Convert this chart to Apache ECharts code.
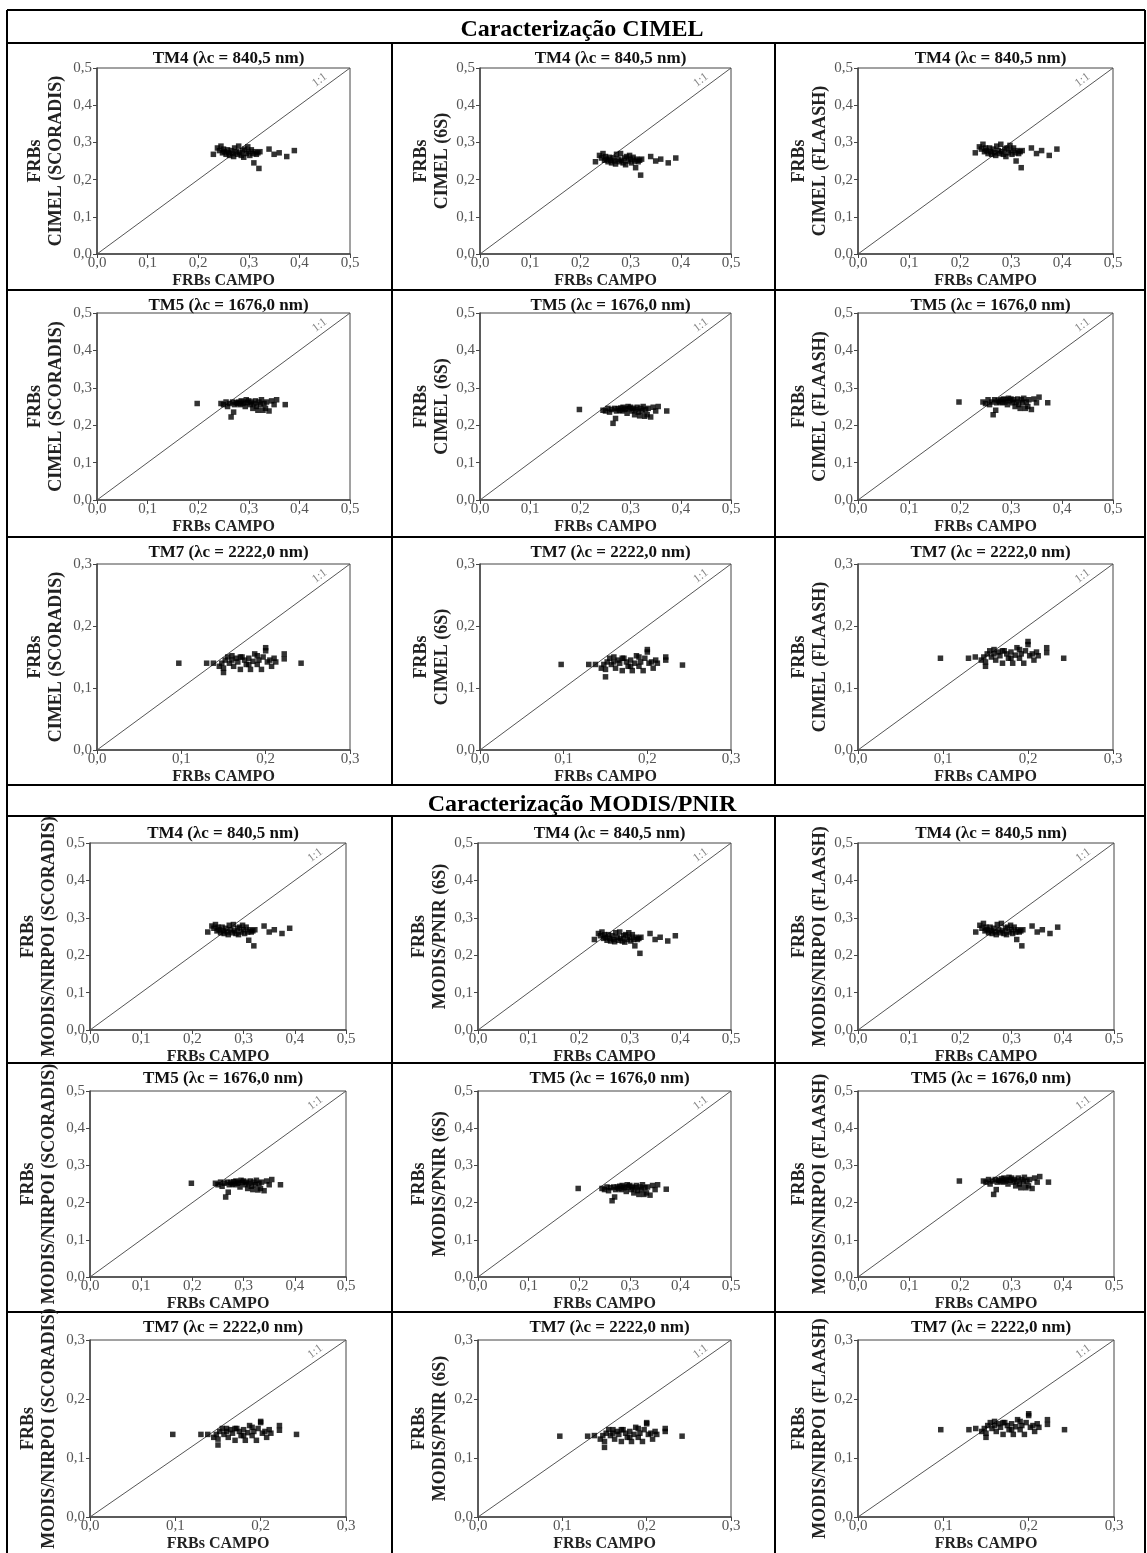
<!DOCTYPE html>
<html>
<head>
<meta charset="utf-8">
<title>Caracterização CIMEL e MODIS/PNIR</title>
<script src="https://cdn.jsdelivr.net/npm/echarts@6/dist/echarts.min.js"></script>
<style>
  html, body { margin: 0; padding: 0; background: #fff; }
  #chart { width: 1147px; height: 1553px; }
</style>
</head>
<body>
<div id="chart"></div>
<script>
// FRBs de campo (eixo x), por banda
const campoTM4 = [0.230,0.238,0.242,0.245,0.248,0.250,0.252,0.255,0.258,0.260,0.262,0.265,0.268,0.270,0.272,0.275,0.278,0.280,0.282,0.285,0.288,0.290,0.292,0.295,0.298,0.300,0.302,0.305,0.308,0.310,0.312,0.315,0.318,0.320,0.322,0.340,0.350,0.360,0.375,0.390]
const campoTM5 = [0.198,0.245,0.250,0.255,0.258,0.262,0.265,0.268,0.270,0.272,0.275,0.278,0.280,0.283,0.285,0.288,0.290,0.293,0.295,0.298,0.300,0.303,0.305,0.308,0.310,0.313,0.315,0.318,0.320,0.323,0.325,0.328,0.330,0.333,0.335,0.340,0.345,0.350,0.355,0.372]
const campoTM7 = [0.097,0.130,0.138,0.145,0.148,0.150,0.152,0.155,0.157,0.160,0.162,0.165,0.167,0.170,0.172,0.175,0.177,0.180,0.182,0.185,0.187,0.190,0.192,0.195,0.197,0.200,0.202,0.205,0.207,0.210,0.212,0.150,0.160,0.170,0.180,0.190,0.200,0.222,0.222,0.242]

// FRBs estimados (eixo y) - caracterização CIMEL
const cimelScoradisTM4 = [0.268,0.285,0.278,0.290,0.272,0.282,0.275,0.268,0.280,0.272,0.265,0.278,0.270,0.262,0.285,0.275,0.268,0.290,0.272,0.265,0.278,0.260,0.282,0.270,0.288,0.275,0.265,0.280,0.270,0.245,0.275,0.268,0.272,0.230,0.275,0.282,0.268,0.272,0.262,0.278]
const cimel6STM4 = [0.248,0.265,0.258,0.270,0.252,0.262,0.255,0.248,0.260,0.252,0.245,0.258,0.250,0.242,0.268,0.255,0.248,0.270,0.252,0.245,0.258,0.240,0.262,0.250,0.265,0.255,0.245,0.260,0.250,0.232,0.255,0.248,0.252,0.212,0.255,0.262,0.250,0.255,0.245,0.258]
const cimelFlaashTM4 = [0.272,0.288,0.282,0.295,0.275,0.285,0.278,0.270,0.285,0.275,0.268,0.282,0.272,0.265,0.290,0.278,0.270,0.295,0.275,0.268,0.282,0.262,0.285,0.272,0.292,0.278,0.268,0.285,0.272,0.250,0.278,0.270,0.275,0.232,0.278,0.285,0.270,0.278,0.265,0.282]
const cimelScoradisTM5 = [0.258,0.258,0.255,0.262,0.250,0.258,0.222,0.262,0.235,0.255,0.260,0.258,0.262,0.255,0.265,0.258,0.262,0.250,0.268,0.260,0.265,0.255,0.262,0.245,0.258,0.265,0.250,0.240,0.262,0.255,0.268,0.240,0.258,0.245,0.262,0.238,0.265,0.255,0.268,0.255]
const cimel6STM5 = [0.242,0.240,0.238,0.245,0.235,0.242,0.205,0.245,0.218,0.238,0.244,0.240,0.246,0.238,0.248,0.242,0.245,0.232,0.250,0.244,0.248,0.238,0.245,0.228,0.242,0.248,0.235,0.225,0.245,0.238,0.250,0.224,0.242,0.228,0.245,0.222,0.248,0.238,0.250,0.238]
const cimelFlaashTM5 = [0.262,0.262,0.258,0.268,0.255,0.262,0.228,0.268,0.240,0.260,0.265,0.262,0.268,0.260,0.270,0.262,0.268,0.255,0.272,0.265,0.270,0.260,0.268,0.250,0.262,0.270,0.255,0.245,0.268,0.260,0.272,0.245,0.262,0.250,0.268,0.242,0.270,0.260,0.275,0.260]
const cimelScoradisTM7 = [0.140,0.140,0.140,0.135,0.140,0.125,0.145,0.150,0.140,0.152,0.135,0.148,0.142,0.130,0.150,0.145,0.138,0.148,0.130,0.143,0.155,0.138,0.145,0.130,0.150,0.160,0.142,0.145,0.135,0.148,0.142,0.132,0.145,0.150,0.138,0.152,0.165,0.147,0.155,0.140]
const cimel6STM7 = [0.138,0.138,0.138,0.132,0.138,0.118,0.142,0.148,0.138,0.150,0.132,0.145,0.140,0.128,0.148,0.142,0.135,0.145,0.128,0.140,0.152,0.135,0.142,0.128,0.148,0.158,0.140,0.142,0.132,0.145,0.140,0.130,0.142,0.148,0.135,0.150,0.162,0.145,0.150,0.137]
const cimelFlaashTM7 = [0.148,0.148,0.150,0.145,0.150,0.135,0.155,0.160,0.150,0.162,0.145,0.158,0.152,0.140,0.160,0.155,0.148,0.158,0.140,0.153,0.165,0.148,0.155,0.140,0.160,0.170,0.152,0.155,0.145,0.158,0.152,0.142,0.155,0.160,0.148,0.162,0.175,0.157,0.165,0.148]

// FRBs estimados (eixo y) - caracterização MODIS/PNIR
const modisScoradisTM4 = [0.262,0.278,0.272,0.282,0.265,0.275,0.268,0.260,0.275,0.265,0.258,0.272,0.262,0.255,0.280,0.268,0.260,0.282,0.265,0.258,0.272,0.255,0.275,0.262,0.280,0.268,0.258,0.275,0.262,0.240,0.268,0.262,0.265,0.225,0.268,0.278,0.262,0.268,0.258,0.272]
const modis6STM4 = [0.242,0.258,0.252,0.262,0.245,0.255,0.248,0.240,0.255,0.245,0.238,0.252,0.242,0.236,0.260,0.248,0.240,0.262,0.245,0.238,0.252,0.235,0.255,0.242,0.260,0.248,0.238,0.255,0.242,0.225,0.248,0.242,0.245,0.205,0.248,0.258,0.242,0.248,0.238,0.252]
const modisFlaashTM4 = [0.262,0.280,0.272,0.285,0.265,0.275,0.268,0.260,0.275,0.265,0.258,0.272,0.262,0.255,0.282,0.268,0.260,0.285,0.265,0.258,0.272,0.255,0.275,0.262,0.280,0.268,0.258,0.275,0.262,0.242,0.268,0.262,0.265,0.225,0.268,0.278,0.262,0.268,0.258,0.275]
const modisScoradisTM5 = [0.252,0.252,0.248,0.255,0.244,0.252,0.215,0.255,0.228,0.248,0.254,0.250,0.256,0.248,0.258,0.252,0.255,0.242,0.260,0.254,0.258,0.248,0.255,0.238,0.252,0.258,0.244,0.235,0.255,0.248,0.260,0.234,0.252,0.238,0.255,0.232,0.258,0.248,0.262,0.248]
const modis6STM5 = [0.238,0.238,0.235,0.242,0.232,0.240,0.205,0.242,0.215,0.235,0.242,0.238,0.244,0.235,0.246,0.240,0.242,0.230,0.248,0.242,0.246,0.235,0.242,0.226,0.240,0.246,0.232,0.222,0.242,0.235,0.248,0.222,0.240,0.226,0.242,0.220,0.246,0.235,0.248,0.236]
const modisFlaashTM5 = [0.258,0.258,0.255,0.262,0.250,0.258,0.222,0.262,0.235,0.255,0.260,0.258,0.264,0.255,0.266,0.258,0.262,0.250,0.268,0.260,0.266,0.255,0.262,0.245,0.258,0.266,0.250,0.240,0.262,0.255,0.268,0.240,0.258,0.245,0.262,0.238,0.266,0.255,0.270,0.255]
const modisScoradisTM7 = [0.140,0.140,0.140,0.135,0.140,0.122,0.145,0.150,0.140,0.150,0.135,0.148,0.142,0.130,0.150,0.145,0.138,0.148,0.130,0.143,0.155,0.138,0.145,0.130,0.150,0.160,0.142,0.145,0.135,0.148,0.142,0.132,0.145,0.150,0.138,0.152,0.162,0.147,0.155,0.140]
const modis6STM7 = [0.137,0.137,0.138,0.132,0.138,0.118,0.142,0.148,0.138,0.148,0.132,0.145,0.140,0.128,0.148,0.142,0.135,0.145,0.128,0.140,0.152,0.135,0.142,0.128,0.148,0.158,0.140,0.142,0.132,0.145,0.140,0.128,0.142,0.148,0.135,0.150,0.160,0.145,0.150,0.137]
const modisFlaashTM7 = [0.148,0.148,0.150,0.145,0.150,0.135,0.155,0.160,0.150,0.162,0.145,0.158,0.152,0.140,0.160,0.155,0.148,0.158,0.140,0.153,0.165,0.148,0.155,0.140,0.160,0.172,0.152,0.155,0.145,0.158,0.152,0.142,0.155,0.160,0.148,0.162,0.175,0.157,0.165,0.148]

const bands = {
  TM4: { title: 'TM4 (λc = 840,5 nm)', max: 0.5, campo: campoTM4 },
  TM5: { title: 'TM5 (λc = 1676,0 nm)', max: 0.5, campo: campoTM5 },
  TM7: { title: 'TM7 (λc = 2222,0 nm)', max: 0.3, campo: campoTM7 },
}
const sectionTitles = ['Caracterização CIMEL', 'Caracterização MODIS/PNIR']

const panels = [
  { row: 0, col: 0, band: 'TM4', yName: 'CIMEL (SCORADIS)', y: cimelScoradisTM4 },
  { row: 0, col: 1, band: 'TM4', yName: 'CIMEL (6S)', y: cimel6STM4 },
  { row: 0, col: 2, band: 'TM4', yName: 'CIMEL (FLAASH)', y: cimelFlaashTM4 },
  { row: 1, col: 0, band: 'TM5', yName: 'CIMEL (SCORADIS)', y: cimelScoradisTM5 },
  { row: 1, col: 1, band: 'TM5', yName: 'CIMEL (6S)', y: cimel6STM5 },
  { row: 1, col: 2, band: 'TM5', yName: 'CIMEL (FLAASH)', y: cimelFlaashTM5 },
  { row: 2, col: 0, band: 'TM7', yName: 'CIMEL (SCORADIS)', y: cimelScoradisTM7 },
  { row: 2, col: 1, band: 'TM7', yName: 'CIMEL (6S)', y: cimel6STM7 },
  { row: 2, col: 2, band: 'TM7', yName: 'CIMEL (FLAASH)', y: cimelFlaashTM7 },
  { row: 3, col: 0, band: 'TM4', yName: 'MODIS/NIRPOI (SCORADIS)', y: modisScoradisTM4 },
  { row: 3, col: 1, band: 'TM4', yName: 'MODIS/PNIR (6S)', y: modis6STM4 },
  { row: 3, col: 2, band: 'TM4', yName: 'MODIS/NIRPOI (FLAASH)', y: modisFlaashTM4 },
  { row: 4, col: 0, band: 'TM5', yName: 'MODIS/NIRPOI (SCORADIS)', y: modisScoradisTM5 },
  { row: 4, col: 1, band: 'TM5', yName: 'MODIS/PNIR (6S)', y: modis6STM5 },
  { row: 4, col: 2, band: 'TM5', yName: 'MODIS/NIRPOI (FLAASH)', y: modisFlaashTM5 },
  { row: 5, col: 0, band: 'TM7', yName: 'MODIS/NIRPOI (SCORADIS)', y: modisScoradisTM7 },
  { row: 5, col: 1, band: 'TM7', yName: 'MODIS/PNIR (6S)', y: modis6STM7 },
  { row: 5, col: 2, band: 'TM7', yName: 'MODIS/NIRPOI (FLAASH)', y: modisFlaashTM7 },
]

// layout em pixels (tabela e áreas de plotagem)
const rowPlot = [[68, 254], [313, 500], [564, 750], [843, 1030], [1091, 1277], [1340, 1526]]
const rowTitleTop = [45, 292, 539, 820, 1065, 1314]
const colPlotTop = [[97, 350], [480, 731], [858, 1113]]
const colPlotBottom = [[90, 346], [478, 731], [858, 1114]]
const nameGapTop = [30, 26, 22]
const nameGapBottom = [30, 26, 22]
const hLines = [10, 43, 290, 537, 785, 816, 1063, 1312]
const tableLeft = 7, tableRight = 1145, tableBottom = 1553
const innerCols = [392, 775]

const serif = '"Liberation Serif", "DejaVu Serif", serif'
const fmt = v => v.toFixed(1).replace('.', ',')

const grid = [], xAxis = [], yAxis = [], series = []
const title = [
  { text: sectionTitles[0], left: 577, top: 13, textAlign: 'center',
    textStyle: { fontFamily: serif, fontSize: 24, fontWeight: 'bold', color: '#000' } },
  { text: sectionTitles[1], left: 577, top: 788, textAlign: 'center',
    textStyle: { fontFamily: serif, fontSize: 24, fontWeight: 'bold', color: '#000' } },
]

panels.forEach((p, i) => {
  const b = bands[p.band]
  const cols = p.row < 3 ? colPlotTop : colPlotBottom
  const [l, r] = cols[p.col]
  const [t, btm] = rowPlot[p.row]
  const gap = (p.row < 3 ? nameGapTop : nameGapBottom)[p.col]

  grid.push({ left: l, top: t, width: r - l, height: btm - t, show: true,
    borderColor: '#444', borderWidth: 1, backgroundColor: 'transparent' })

  title.push({ text: b.title, left: (l + r) / 2, top: rowTitleTop[p.row], textAlign: 'center',
    textStyle: { fontFamily: serif, fontSize: 17, fontWeight: 'bold', color: '#111' } })

  const axisCommon = {
    type: 'value', gridIndex: i, min: 0, max: b.max, interval: 0.1,
    splitLine: { show: false },
    axisLine: { show: true, lineStyle: { color: '#444', width: 1.5 } },
    axisTick: { show: true, length: 4, lineStyle: { color: '#444' } },
    axisLabel: { formatter: fmt, fontFamily: serif, fontSize: 15, color: '#555' },
  }
  xAxis.push({ ...axisCommon,
    axisLabel: { ...axisCommon.axisLabel, margin: 2 },
    name: 'FRBs CAMPO', nameLocation: 'middle', nameGap: 19,
    nameTextStyle: { fontFamily: serif, fontSize: 16, fontWeight: 'bold', color: '#222' } })
  yAxis.push({ ...axisCommon,
    axisLabel: { ...axisCommon.axisLabel, margin: 5 },
    name: 'FRBs\n' + p.yName, nameLocation: 'middle', nameGap: gap, nameRotate: 90,
    nameTextStyle: { fontFamily: serif, fontSize: 18, fontWeight: 'bold', color: '#222', lineHeight: 21, align: 'center' } })

  // linha 1:1
  series.push({ type: 'line', xAxisIndex: i, yAxisIndex: i, silent: true, symbol: 'none',
    data: [[0, 0], [b.max, b.max]], lineStyle: { color: '#555', width: 1 }, z: 1 })
  // rótulo 1:1
  series.push({ type: 'scatter', xAxisIndex: i, yAxisIndex: i, silent: true, symbolSize: 0,
    data: [[b.max * 0.88, b.max * 0.935]],
    label: { show: true, position: 'inside', formatter: '1:1', rotate: 37,
      fontFamily: serif, fontSize: 12, color: '#666' }, z: 2 })
  // pontos
  series.push({ type: 'scatter', xAxisIndex: i, yAxisIndex: i, symbol: 'rect', symbolSize: 5.5,
    itemStyle: { color: '#000' }, data: b.campo.map((x, k) => [x, p.y[k]]), z: 3 })
})

// bordas da tabela
const graphic = []
const line = (x1, y1, x2, y2) => graphic.push({ type: 'line', silent: true,
  shape: { x1, y1, x2, y2 }, style: { stroke: '#000', lineWidth: 2 } })
hLines.forEach(y => line(tableLeft, y, tableRight, y))
line(tableLeft, hLines[0], tableLeft, tableBottom)
line(tableRight, hLines[0], tableRight, tableBottom)
innerCols.forEach(x => {
  line(x, hLines[1], x, hLines[4])
  line(x, hLines[5], x, tableBottom)
})

const chart = echarts.init(document.getElementById('chart'))
chart.setOption({
  backgroundColor: '#fff',
  animation: false,
  title, grid, xAxis, yAxis, series, graphic,
})
</script>
</body>
</html>
